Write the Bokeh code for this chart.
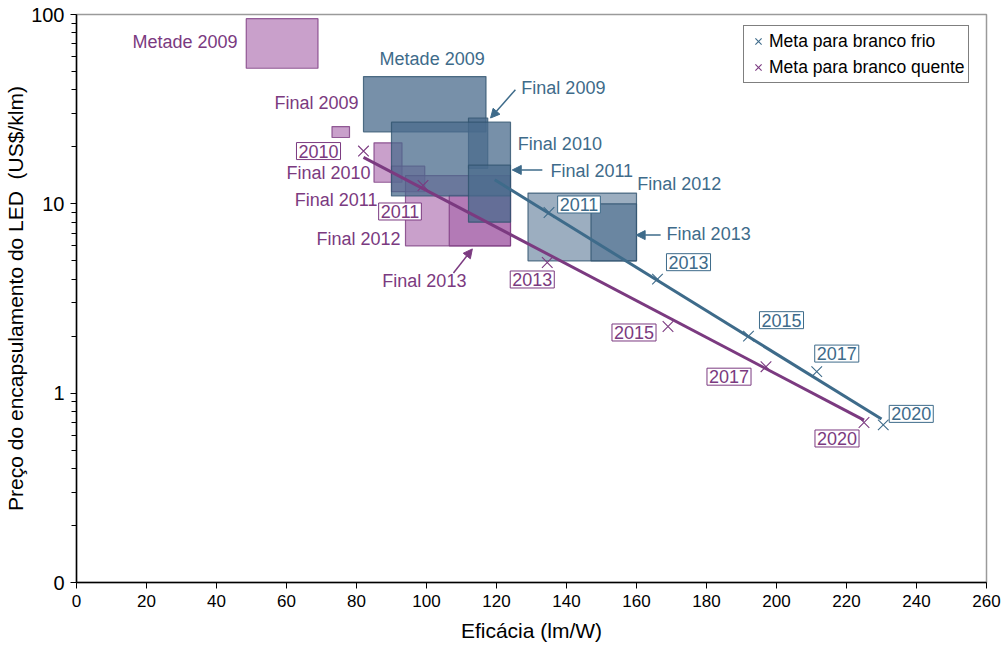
from bokeh.plotting import figure
from bokeh.models import (ColumnDataSource, FixedTicker, Label, Arrow, NormalHead,
                          Legend, LegendItem, Range1d, Title)
from bokeh.embed import file_html
from bokeh.resources import INLINE

FONT = "Liberation Sans"
COOL = "#3E6B8A"
WARM = "#7B3A80"
COOL_FILL = "#4A6B8C"
WARM_FILL = "#A560A8"

# ---- measured package price / efficacy ranges (boxes) ----
cool_box_names = ["Metade 2009", "Final 2009", "Final 2010", "Final 2011", "Final 2012", "Final 2013"]
cool_eff_lo = [82, 112, 90, 112, 129, 147]
cool_eff_hi = [117, 117.5, 124, 124, 160, 160]
cool_price_lo = [24, 15.4, 11, 8, 5, 5]
cool_price_hi = [47, 28.4, 27, 16, 11.4, 10]

warm_box_names = ["Metade 2009", "Final 2009", "Final 2010", "Final 2011", "Final 2012", "Final 2013"]
warm_eff_lo = [48.5, 73, 85, 90, 94, 106.5]
warm_eff_hi = [69, 78, 93, 99.5, 124, 124]
warm_price_lo = [52, 22.4, 13, 11.6, 6, 6]
warm_price_hi = [95, 25.6, 21, 15.8, 14.1, 11.1]

# ---- targets ----
cool_target_years = ["2011", "2013", "2015", "2017", "2020"]
cool_target_eff = [135, 166, 192, 211.5, 230.5]
cool_target_price = [9, 4, 2, 1.3, 0.68]

warm_target_years = ["2010", "2011", "2013", "2015", "2017", "2020"]
warm_target_eff = [82, 99, 134.5, 169, 197, 225]
warm_target_price = [19, 12.5, 4.9, 2.25, 1.38, 0.7]

# ---- target trend lines ----
cool_trend_eff = [119.5, 230]
cool_trend_price = [13.4, 0.73]
warm_trend_eff = [82, 225]
warm_trend_price = [17.6, 0.72]

x_ticks = list(range(0, 261, 20))
y_ticks = [0.1, 1, 10, 100]
y_tick_labels = ["0", "1", "10", "100"]

x_title = "Eficácia (lm/W)"
y_title = "Preço do encapsulamento do LED\u00a0 (US$/klm)"

# ---- annotation layout ----
cool_name_x = [86.6, 127.1, 126.1, 135.4, 160.2, 168.6]
cool_name_y = [58.5, 40.9, 20.7, 14.9, 12.7, 6.91]
warm_name_x = [46, 80.6, 84, 86, 92.6, 111.4]
warm_name_y = [72, 34.2, 14.6, 10.5, 6.53, 3.91]

cool_year_dx = [30, 31, 33, 20, 28]
cool_year_dy = [-8, -17, -16, -18, -11]
warm_year_dx = [-45, -23, -15, -34, -37, -27]
warm_year_dy = [0, 26, 17, 6, 10, 16]

# arrows: (tail_x, tail_y, head_x, head_y)
cool_arrows = {"Final 2009": (125.4, 40.0, 118.3, 28.4),
               "Final 2011": (133.1, 15.1, 124.5, 15.1),
               "Final 2013": (166.9, 6.84, 159.9, 6.84)}
warm_arrows = {"Final 2013": (107.7, 4.31, 113.1, 5.78)}

cool_alpha = [0.75, 0.75, 0.75, 0.75, 0.55, 0.6]
warm_alpha = [0.6, 0.6, 0.6, 0.6, 0.6, 0.6]

p = figure(width=1004, height=648, y_axis_type="log",
           x_range=Range1d(0, 260), y_range=Range1d(0.1, 100),
           output_backend="svg", toolbar_location=None,
           min_border_left=76, min_border_right=18, min_border_top=14, min_border_bottom=66)
p.frame_width = 910
p.frame_height = 568
p.xgrid.visible = False
p.ygrid.visible = False
p.outline_line_color = "#9A9A9A"
p.outline_line_width = 1.5
p.background_fill_color = "white"
p.border_fill_color = "white"

# boxes
warm_src = ColumnDataSource(dict(l=warm_eff_lo, r=warm_eff_hi, b=warm_price_lo, t=warm_price_hi, a=warm_alpha))
cool_src = ColumnDataSource(dict(l=cool_eff_lo, r=cool_eff_hi, b=cool_price_lo, t=cool_price_hi, a=cool_alpha))
p.quad(left="l", right="r", bottom="b", top="t", source=warm_src,
       fill_color=WARM_FILL, fill_alpha="a", line_color=WARM, line_alpha=0.8, line_width=1.2)
p.quad(left="l", right="r", bottom="b", top="t", source=cool_src,
       fill_color=COOL_FILL, fill_alpha="a", line_color="#2F526E", line_alpha=0.8, line_width=1.2)

# trend lines
p.line(cool_trend_eff, cool_trend_price, line_color=COOL, line_width=3)
p.line(warm_trend_eff, warm_trend_price, line_color=WARM, line_width=3)

# target markers
r_cool = p.scatter(cool_target_eff, cool_target_price, marker="x", size=15,
                   line_color=COOL, line_width=1.1)
r_warm = p.scatter(warm_target_eff, warm_target_price, marker="x", size=15,
                   line_color=WARM, line_width=1.1)

# box names
for name, x, y in zip(cool_box_names, cool_name_x, cool_name_y):
    p.add_layout(Label(x=x, y=y, text=name, text_align="left", text_baseline="middle",
                       text_font=FONT, text_font_size="18px", text_color=COOL))
for name, x, y in zip(warm_box_names, warm_name_x, warm_name_y):
    p.add_layout(Label(x=x, y=y, text=name, text_align="right", text_baseline="middle",
                       text_font=FONT, text_font_size="18px", text_color=WARM))

# arrows
for (x0, y0, x1, y1) in cool_arrows.values():
    p.add_layout(Arrow(x_start=x0, y_start=y0, x_end=x1, y_end=y1, line_color=COOL, line_width=1.5,
                       end=NormalHead(size=9, fill_color=COOL, line_color=COOL)))
for (x0, y0, x1, y1) in warm_arrows.values():
    p.add_layout(Arrow(x_start=x0, y_start=y0, x_end=x1, y_end=y1, line_color=WARM, line_width=1.5,
                       end=NormalHead(size=9, fill_color=WARM, line_color=WARM)))

# year tags
for yr, x, y, dx, dy in zip(cool_target_years, cool_target_eff, cool_target_price, cool_year_dx, cool_year_dy):
    p.add_layout(Label(x=x, y=y, x_offset=dx, y_offset=-dy, text=yr, text_align="center",
                       text_baseline="middle", text_font=FONT, text_font_size="18px", text_color=COOL,
                       background_fill_color="white", border_line_color=COOL, border_line_width=1,
                       padding=2))
for yr, x, y, dx, dy in zip(warm_target_years, warm_target_eff, warm_target_price, warm_year_dx, warm_year_dy):
    p.add_layout(Label(x=x, y=y, x_offset=dx, y_offset=-dy, text=yr, text_align="center",
                       text_baseline="middle", text_font=FONT, text_font_size="18px", text_color=WARM,
                       background_fill_color="white", border_line_color=WARM, border_line_width=1,
                       padding=2))

# axes
p.xaxis.ticker = FixedTicker(ticks=x_ticks)
p.xaxis.minor_tick_line_color = None
p.yaxis.ticker = FixedTicker(ticks=y_ticks,
                             minor_ticks=[m * d for d in (0.1, 1, 10) for m in range(2, 10)])
p.yaxis.major_label_overrides = {t: s for t, s in zip(y_ticks, y_tick_labels)}
for ax in (p.xaxis, p.yaxis):
    ax.axis_line_color = "black"
    ax.axis_line_width = 1.5
    ax.major_tick_line_color = "black"
    ax.major_tick_in = 0
    ax.major_tick_out = 6
    ax.minor_tick_in = 0
    ax.minor_tick_out = 5
    ax.major_label_text_font = FONT
    ax.major_label_text_font_size = "17px"
    ax.major_label_text_color = "black"
    ax.axis_label_text_font = FONT
    ax.axis_label_text_font_size = "21px"
    ax.axis_label_text_font_style = "normal"
    ax.axis_label_text_color = "black"
p.yaxis.major_label_text_font_size = "20px"
p.xaxis.axis_label = x_title
p.xaxis.major_label_standoff = 6
p.xaxis.axis_label_standoff = 9
p.yaxis.major_label_standoff = 6

# vertical axis title in the left panel
p.add_layout(Title(text=y_title, align="center", text_font=FONT, text_font_size="21px",
                   text_font_style="normal", text_color="black", standoff=3), "left")

legend = Legend(items=[LegendItem(label="Meta para branco frio", renderers=[r_cool]),
                       LegendItem(label="Meta para branco quente", renderers=[r_warm])],
                location=(667, 499))
legend.label_text_font = FONT
legend.label_text_font_size = "17.5px"
legend.label_text_color = "black"
legend.border_line_color = "black"
legend.border_line_width = 1
legend.background_fill_alpha = 1
legend.padding = 3
legend.spacing = 2
legend.margin = 0
legend.glyph_width = 22
legend.glyph_height = 24
legend.label_height = 24
legend.label_standoff = 0
p.add_layout(legend)

open("out.html", "w").write(file_html(p, INLINE))
